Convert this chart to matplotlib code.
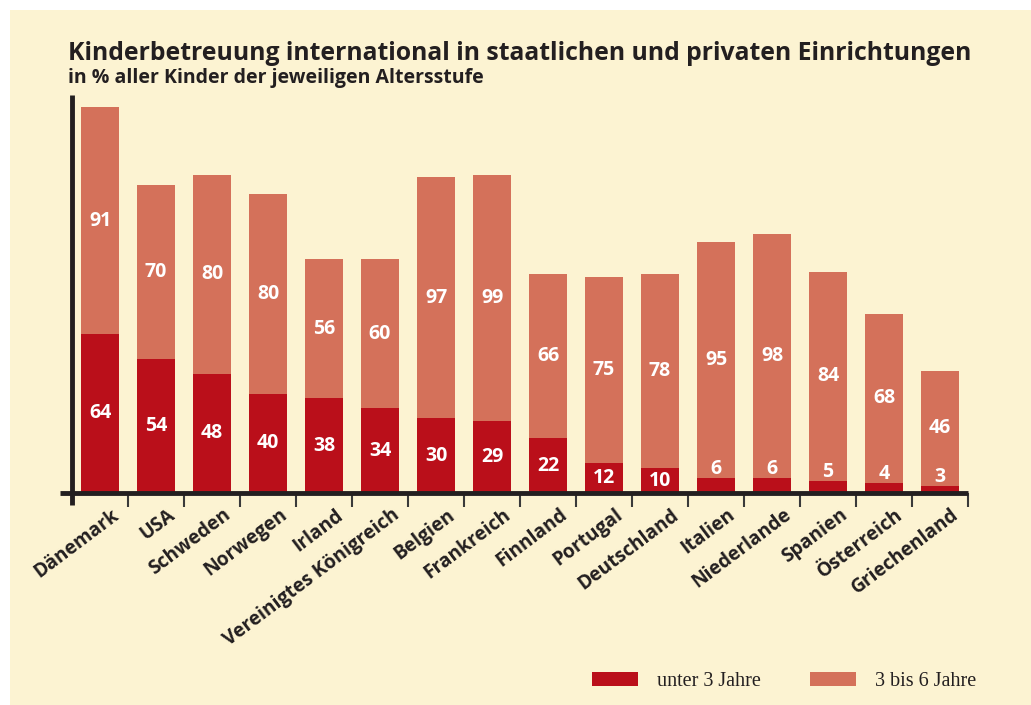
import matplotlib
matplotlib.use("Agg")
import matplotlib.pyplot as plt
from matplotlib.patches import Rectangle
import numpy as np

countries = ["Dänemark", "USA", "Schweden", "Norwegen", "Irland", "Vereinigtes Königreich",
             "Belgien", "Frankreich", "Finnland", "Portugal", "Deutschland", "Italien",
             "Niederlande", "Spanien", "Österreich", "Griechenland"]
under3 = [64, 54, 48, 40, 38, 34, 30, 29, 22, 12, 10, 6, 6, 5, 4, 3]
age3to6 = [91, 70, 80, 80, 56, 60, 97, 99, 66, 75, 78, 95, 98, 84, 68, 46]

title = "Kinderbetreuung international in staatlichen und privaten Einrichtungen"
subtitle = "in % aller Kinder der jeweiligen Altersstufe"
legend_labels = ["unter 3 Jahre", "3 bis 6 Jahre"]

C_RED = "#BA0F1A"
C_SALMON = "#D4715A"
C_BG = "#FCF3D2"
C_DARK = "#231F20"
SANS = ["Open Sans", "DejaVu Sans"]
SERIF = ["Liberation Serif", "DejaVu Serif"]

W, H = 1031, 705
fig = plt.figure(figsize=(W / 100, H / 100), dpi=100)
fig.patch.set_facecolor("white")
fig.add_artist(Rectangle((10 / W, 0), 1 - 10 / W, 1 - 10 / H, transform=fig.transFigure,
                         facecolor=C_BG, edgecolor="none", zorder=-10))

ax = fig.add_axes([72 / W, (H - 493) / H, (968 - 72) / W, (493 - 95) / H])
ax.set_facecolor("none")
x = np.arange(len(countries))
bw = 0.68
ax.bar(x, under3, width=bw, color=C_RED, zorder=2)
ax.bar(x, age3to6, width=bw, bottom=under3, color=C_SALMON, zorder=2)
ax.set_xlim(-0.5, len(countries) - 0.5)
ax.set_ylim(0, 160)

for s in ax.spines.values():
    s.set_visible(False)

# axis lines
ax.plot([-0.5, -0.5], [-0.03, 1], transform=ax.get_xaxis_transform(), color=C_DARK,
        lw=3.5, clip_on=False, solid_capstyle="butt", zorder=3)
ax.plot([-0.714, len(countries) - 0.5], [0, 0], color=C_DARK, lw=3.5, clip_on=False,
        solid_capstyle="butt", zorder=3)

ax.set_yticks([])
ax.set_xticks(x)
ax.set_xticks(np.arange(0.5, len(countries), 1), minor=True)
ax.tick_params(axis="x", which="major", length=0, pad=0)
ax.tick_params(axis="x", which="minor", length=10, width=1.5, color="#3a3a3a", direction="out")
ax.set_xticklabels([])
for xi, name in zip(x, countries):
    ax.annotate(name, xy=(xi, 0), xycoords=("data", "data"), xytext=(11, -12),
                textcoords="offset pixels", rotation=37, rotation_mode="anchor",
                ha="right", va="top", fontsize=13.8, fontweight="bold",
                family=SANS, color=C_DARK)

for xi, u, a in zip(x, under3, age3to6):
    yu = u / 2 if u >= 8 else u + 3.5
    ax.text(xi, yu, str(u), ha="center", va="center", color="white",
            fontsize=14, fontweight="bold", family=SANS, zorder=4)
    ax.text(xi, u + a / 2, str(a), ha="center", va="center", color="white",
            fontsize=14, fontweight="bold", family=SANS, zorder=4)

fig.text(68 / W, 1 - 60 / H, title, fontsize=17.8, fontweight="bold", family=SANS,
         color=C_DARK, ha="left", va="baseline")
fig.text(68 / W, 1 - 83 / H, subtitle, fontsize=14, fontweight="bold", family=SANS,
         color=C_DARK, ha="left", va="baseline")

# legend
for (x0, lab, col) in [(592, legend_labels[0], C_RED), (810, legend_labels[1], C_SALMON)]:
    fig.add_artist(Rectangle((x0 / W, 1 - 686 / H), 46 / W, 14 / H,
                             transform=fig.transFigure, facecolor=col, edgecolor="none"))
    fig.text((x0 + 65) / W, 1 - 686 / H, lab, fontsize=14.5, family=SERIF,
             color=C_DARK, ha="left", va="baseline")

fig.savefig("out.png", dpi=100, facecolor=fig.get_facecolor())
